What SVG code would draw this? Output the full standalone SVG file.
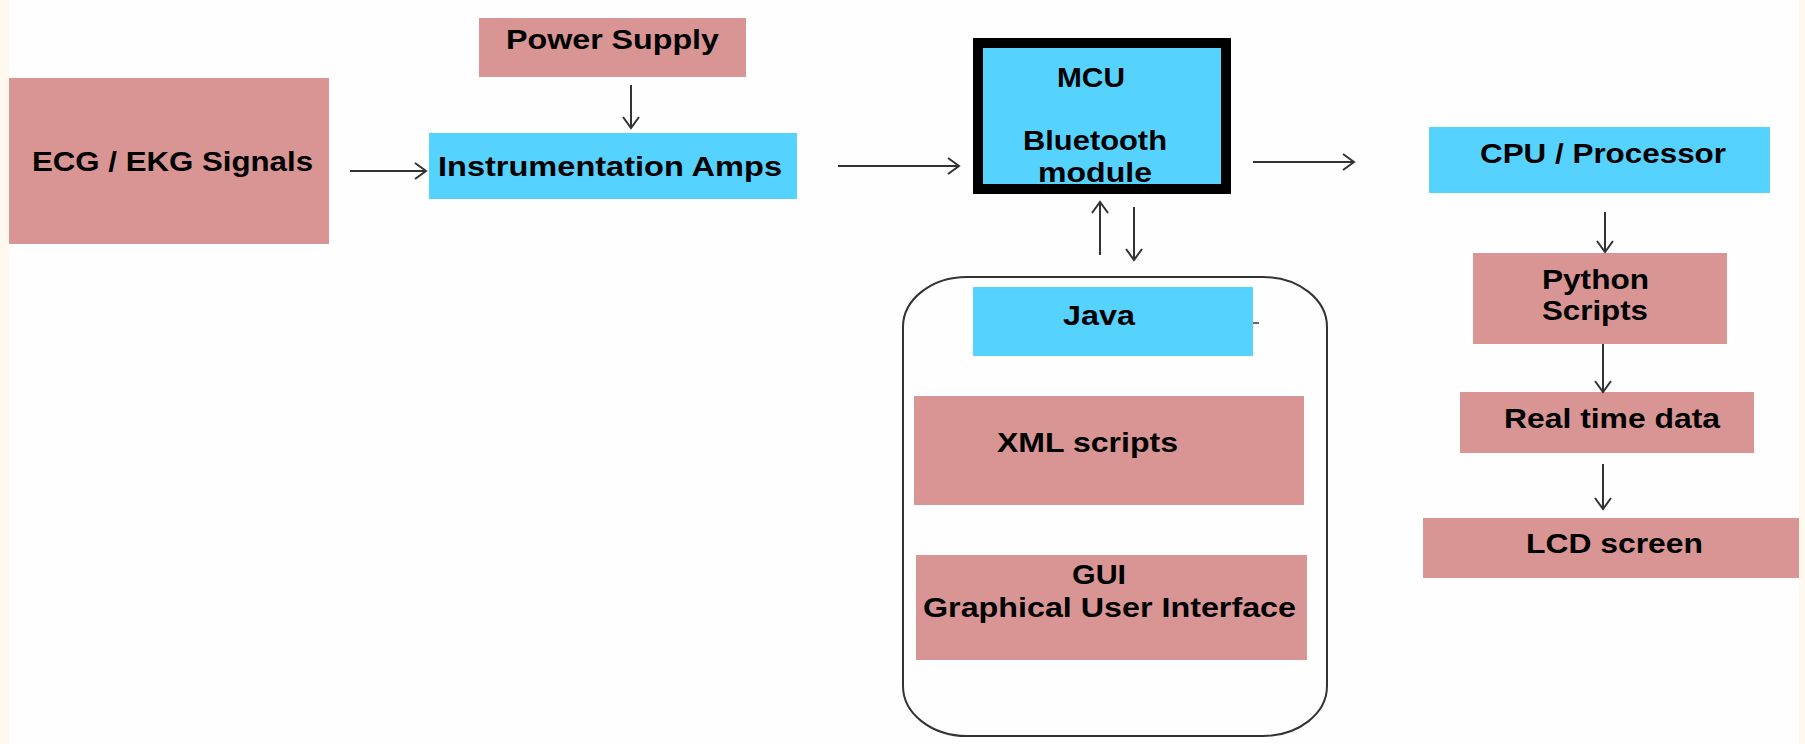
<svg xmlns="http://www.w3.org/2000/svg" width="1805" height="744" viewBox="0 0 1805 744">
<style>
.pink{fill:#d99594}
.blue{fill:#56d2ff}
.t{font-family:"Liberation Sans",Arial,sans-serif;font-weight:bold;font-size:28px;fill:#000}
.c{fill:none;stroke:#333;stroke-width:2}
</style>
<defs>
<marker id="ah" markerUnits="userSpaceOnUse" markerWidth="16" markerHeight="20" refX="13" refY="10" orient="auto">
<path d="M2,2 L13,10 L2,18" fill="none" stroke="#333" stroke-width="2"/>
</marker>
</defs>
<rect width="1805" height="744" fill="#fefefe"/>
<rect x="0" y="0" width="9" height="744" fill="#fff8ec"/>
<rect x="1799" y="0" width="6" height="744" fill="#fff8ec"/>

<g id="ecg">
<rect class="pink" x="9" y="78" width="320" height="166"/>
<text class="t" x="32" y="171" textLength="281" lengthAdjust="spacingAndGlyphs">ECG / EKG Signals</text>
</g>
<g id="power">
<rect class="pink" x="479" y="18" width="267" height="59"/>
<text class="t" x="506" y="49" textLength="213" lengthAdjust="spacingAndGlyphs">Power Supply</text>
</g>
<g id="amps">
<rect class="blue" x="429" y="133" width="368" height="66"/>
<text class="t" x="438" y="176" textLength="344" lengthAdjust="spacingAndGlyphs">Instrumentation Amps</text>
</g>
<g id="mcu">
<rect class="blue" x="978" y="43" width="248" height="146" stroke="#000" stroke-width="10"/>
<text class="t" x="1057" y="87" textLength="68" lengthAdjust="spacingAndGlyphs">MCU</text>
<text class="t" x="1023" y="150" textLength="144" lengthAdjust="spacingAndGlyphs">Bluetooth</text>
<text class="t" x="1038" y="182" textLength="114" lengthAdjust="spacingAndGlyphs">module</text>
</g>
<g id="app">
<rect x="903" y="277" width="424" height="459" rx="64" ry="50" fill="none" stroke="#333" stroke-width="2"/>
</g>
<g id="java">
<rect class="blue" x="973" y="287" width="280" height="69"/>
<text class="t" x="1063" y="325" textLength="72" lengthAdjust="spacingAndGlyphs">Java</text>
<line x1="1253" y1="323" x2="1259" y2="323" stroke="#333" stroke-width="1.5"/>
</g>
<g id="xml">
<rect class="pink" x="914" y="396" width="390" height="109"/>
<text class="t" x="997" y="452" textLength="181" lengthAdjust="spacingAndGlyphs">XML scripts</text>
</g>
<g id="gui">
<rect class="pink" x="916" y="555" width="391" height="105"/>
<text class="t" x="1072" y="584" textLength="54" lengthAdjust="spacingAndGlyphs">GUI</text>
<text class="t" x="923" y="617" textLength="373" lengthAdjust="spacingAndGlyphs">Graphical User Interface</text>
</g>
<g id="cpu">
<rect class="blue" x="1429" y="127" width="341" height="66"/>
<text class="t" x="1480" y="163" textLength="246" lengthAdjust="spacingAndGlyphs">CPU / Processor</text>
</g>
<g id="python">
<rect class="pink" x="1473" y="253" width="254" height="91"/>
<text class="t" x="1542" y="289" textLength="107" lengthAdjust="spacingAndGlyphs">Python</text>
<text class="t" x="1542" y="320" textLength="106" lengthAdjust="spacingAndGlyphs">Scripts</text>
</g>
<g id="realtime">
<rect class="pink" x="1460" y="392" width="294" height="61"/>
<text class="t" x="1504" y="428" textLength="216" lengthAdjust="spacingAndGlyphs">Real time data</text>
</g>
<g id="lcd">
<rect class="pink" x="1423" y="518" width="376" height="60"/>
<text class="t" x="1526" y="553" textLength="177" lengthAdjust="spacingAndGlyphs">LCD screen</text>
</g>

<g id="connectors" class="c">
<line x1="350" y1="171" x2="426" y2="171" marker-end="url(#ah)"/>
<line x1="631" y1="85" x2="631" y2="128" marker-end="url(#ah)"/>
<line x1="838" y1="166" x2="959" y2="166" marker-end="url(#ah)"/>
<line x1="1253" y1="162" x2="1354" y2="162" marker-end="url(#ah)"/>
<line x1="1100" y1="255" x2="1100" y2="202" marker-end="url(#ah)"/>
<line x1="1134" y1="207" x2="1134" y2="260" marker-end="url(#ah)"/>
<line x1="1605" y1="212" x2="1605" y2="252" marker-end="url(#ah)"/>
<line x1="1603" y1="344" x2="1603" y2="392" marker-end="url(#ah)"/>
<line x1="1603" y1="464" x2="1603" y2="509" marker-end="url(#ah)"/>
</g>
</svg>
